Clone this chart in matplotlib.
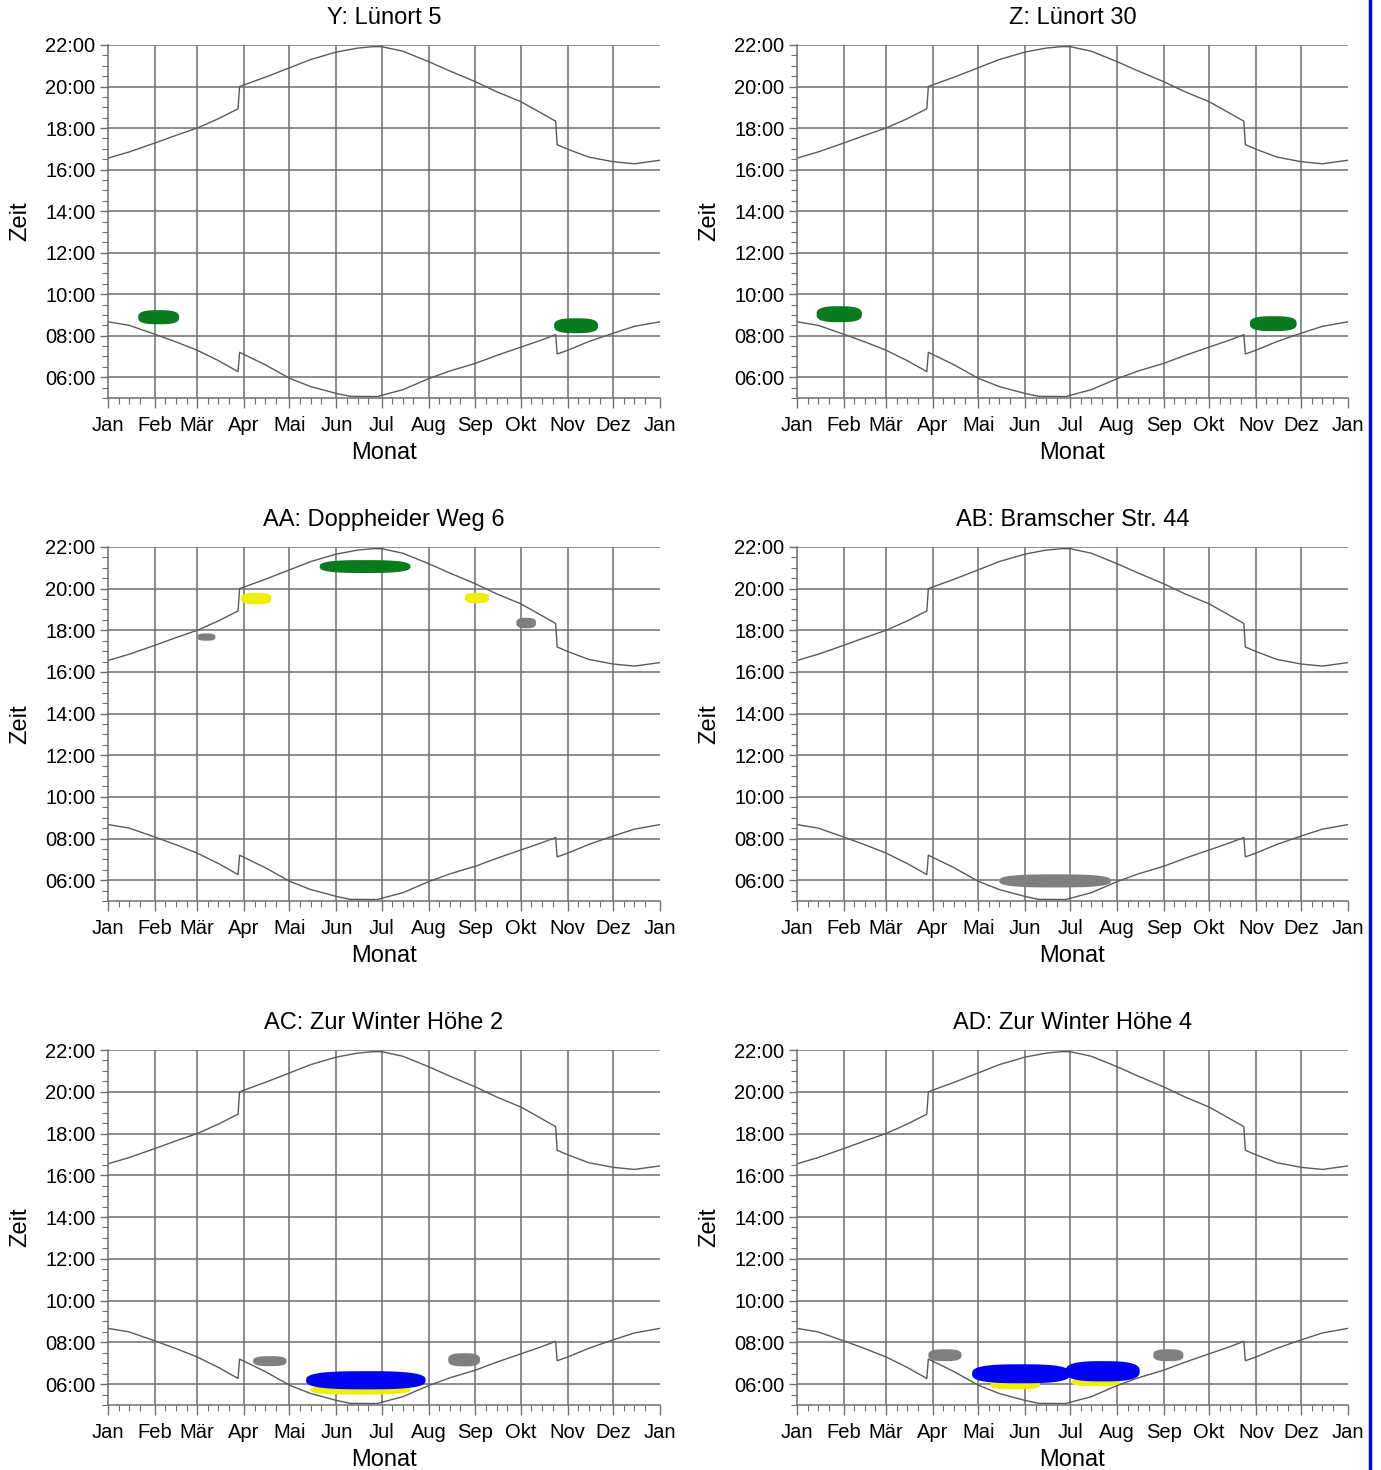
import numpy as np
import matplotlib
matplotlib.use('Agg')
import matplotlib.pyplot as plt
import matplotlib.dates as mdates
from matplotlib.lines import Line2D

plt.rcParams['font.family'] = ['Liberation Sans', 'DejaVu Sans']

# Panels
titel = ['Y: Lünort 5', 'Z: Lünort 30', 'AA: Doppheider Weg 6',
         'AB: Bramscher Str. 44', 'AC: Zur Winter Höhe 2', 'AD: Zur Winter Höhe 4']
monate = ['Jan', 'Feb', 'Mär', 'Apr', 'Mai', 'Jun', 'Jul', 'Aug', 'Sep', 'Okt', 'Nov', 'Dez', 'Jan']
monat_start = ['2015-01-01', '2015-02-01', '2015-03-01', '2015-04-01', '2015-05-01', '2015-06-01',
               '2015-07-01', '2015-08-01', '2015-09-01', '2015-10-01', '2015-11-01', '2015-12-01',
               '2016-01-01']
stunden = [6, 8, 10, 12, 14, 16, 18, 20, 22]

# Sonnenuntergang (Stunden, Ortszeit)
su_datum = ['2015-01-01', '2015-01-15', '2015-02-01', '2015-02-15', '2015-03-01', '2015-03-15',
            '2015-03-28', '2015-03-29', '2015-04-15', '2015-05-01', '2015-05-15', '2015-06-01',
            '2015-06-15', '2015-06-25', '2015-07-01', '2015-07-15', '2015-08-01', '2015-08-15',
            '2015-09-01', '2015-09-15', '2015-10-01', '2015-10-15', '2015-10-24', '2015-10-25',
            '2015-11-01', '2015-11-15', '2015-12-01', '2015-12-15', '2016-01-01']
su_zeit = [16.55, 16.85, 17.28, 17.65, 18.0, 18.45, 18.93, 20.0, 20.45, 20.9, 21.3, 21.66,
           21.85, 21.92, 21.92, 21.7, 21.2, 20.75, 20.23, 19.75, 19.27, 18.7, 18.33, 17.2,
           16.98, 16.6, 16.38, 16.28, 16.45]

# Sonnenaufgang
sa_datum = ['2015-01-01', '2015-01-15', '2015-02-01', '2015-02-15', '2015-03-01', '2015-03-15',
            '2015-03-28', '2015-03-29', '2015-04-15', '2015-05-01', '2015-05-15', '2015-06-01',
            '2015-06-10', '2015-06-28', '2015-07-01', '2015-07-15', '2015-08-01', '2015-08-15',
            '2015-09-01', '2015-09-15', '2015-10-01', '2015-10-15', '2015-10-24', '2015-10-25',
            '2015-11-01', '2015-11-15', '2015-12-01', '2015-12-15', '2016-01-01']
sa_zeit = [8.67, 8.5, 8.07, 7.7, 7.3, 6.8, 6.27, 7.2, 6.6, 5.95, 5.55, 5.22,
           5.08, 5.07, 5.13, 5.4, 5.93, 6.3, 6.67, 7.05, 7.45, 7.8, 8.05, 7.12,
           7.3, 7.72, 8.12, 8.45, 8.67]

# Blendungszeiten (Flecken)
blob_panel = [0, 0, 1, 1, 2, 2, 2, 2, 2, 3, 4, 4, 4, 4, 5, 5, 5, 5, 5, 5]
blob_farbe = ['green', 'green', 'green', 'green',
              'gray', 'yellow', 'green', 'yellow', 'gray',
              'gray',
              'gray', 'yellow', 'blue', 'gray',
              'gray', 'yellow', 'yellow', 'blue', 'blue', 'gray']
blob_von = ['2015-01-21', '2015-10-23', '2015-01-14', '2015-10-28',
            '2015-03-01', '2015-03-30', '2015-05-21', '2015-08-25', '2015-09-28',
            '2015-05-15',
            '2015-04-07', '2015-05-15', '2015-05-12', '2015-08-14',
            '2015-03-29', '2015-05-09', '2015-07-02', '2015-04-27', '2015-06-28', '2015-08-25']
blob_bis = ['2015-02-17', '2015-11-21', '2015-02-13', '2015-11-28',
            '2015-03-13', '2015-04-19', '2015-07-20', '2015-09-10', '2015-10-11',
            '2015-07-28',
            '2015-04-29', '2015-07-20', '2015-07-30', '2015-09-04',
            '2015-04-20', '2015-06-11', '2015-08-03', '2015-07-01', '2015-08-16', '2015-09-14']
blob_unten = [8.55, 8.12, 8.65, 8.22,
              17.5, 19.25, 20.75, 19.3, 18.1,
              5.65,
              6.86, 5.5, 5.75, 6.85,
              7.1, 5.75, 5.9, 6.04, 6.13, 7.1]
blob_oben = [9.23, 8.84, 9.42, 8.94,
             17.85, 19.8, 21.37, 19.8, 18.6,
             6.28,
             7.34, 5.95, 6.62, 7.48,
             7.67, 6.18, 6.28, 6.95, 7.1, 7.67]
farben = {'green': '#0a7a1e', 'yellow': '#eef000', 'gray': '#7f7f7f', 'blue': '#0000f5'}

gitter = '#6e6e6e'


def fleck(ax, x0, x1, y0, y1, farbe):
    t = np.linspace(0, 2 * np.pi, 120)
    c, s = np.cos(t), np.sin(t)
    xs = (x0 + x1) / 2 + (x1 - x0) / 2 * np.sign(c) * np.abs(c) ** 0.7
    ys = (y0 + y1) / 2 + (y1 - y0) / 2 * np.sign(s) * np.abs(s) ** 0.7
    ax.fill(xs, ys, color=farbe, lw=0, zorder=3)


fig = plt.figure(figsize=(13.81, 14.70), dpi=100)
W, H = 1381, 1470
links = [108, 797]
breite = [552, 551]
oben = [45, 547, 1050]
hoehe = [353, 354, 355]

mon = mdates.datestr2num(monat_start)
su_x = mdates.datestr2num(su_datum)
sa_x = mdates.datestr2num(sa_datum)

for i in range(6):
    r, c = i // 2, i % 2
    ax = fig.add_axes([links[c] / W, 1 - (oben[r] + hoehe[r]) / H, breite[c] / W, hoehe[r] / H])
    ax.set_xlim(mon[0], mon[-1])
    ax.set_ylim(5, 22)

    ax.grid(axis='y', color=gitter, lw=1.1)
    for m in mon[1:-1]:
        ax.axvline(m, color=gitter, lw=1.1, zorder=1)
    ax.set_axisbelow(True)

    ax.plot(su_x, su_zeit, color='#5a5a5a', lw=1.0, zorder=2)
    ax.plot(sa_x, sa_zeit, color='#5a5a5a', lw=1.0, zorder=2)

    for k in range(len(blob_panel)):
        if blob_panel[k] != i:
            continue
        fleck(ax, mdates.datestr2num(blob_von[k]), mdates.datestr2num(blob_bis[k]),
              blob_unten[k], blob_oben[k], farben[blob_farbe[k]])

    ax.set_xticks(mon)
    ax.set_xticklabels(monate)
    ax.xaxis.set_minor_locator(mdates.DayLocator(bymonthday=[8, 15, 22]))
    ax.set_yticks(stunden)
    ax.set_yticklabels(['%02d:00' % h for h in stunden])
    ax.set_yticks(np.arange(5, 22, 0.5), minor=True)
    ax.tick_params(which='major', direction='out', length=6, width=1.0, color=gitter,
                   labelsize=14.5, pad=3)
    ax.tick_params(axis='x', which='major', length=7, pad=6)
    ax.tick_params(which='minor', direction='out', length=4, width=0.8, color=gitter)

    for sp in ['top', 'right']:
        ax.spines[sp].set_visible(False)
    for sp in ['left', 'bottom']:
        ax.spines[sp].set_color(gitter)
        ax.spines[sp].set_linewidth(1.1)

    ax.set_title(titel[i], fontsize=17, pad=15)
    ax.set_xlabel('Monat', fontsize=17, labelpad=5)
    ax.set_ylabel('Zeit', fontsize=17, labelpad=10)

fig.add_artist(Line2D([1370 / W, 1370 / W], [0, 1], color='#0000ff', lw=2.5))

fig.savefig('out.png', dpi=100, facecolor='white')
